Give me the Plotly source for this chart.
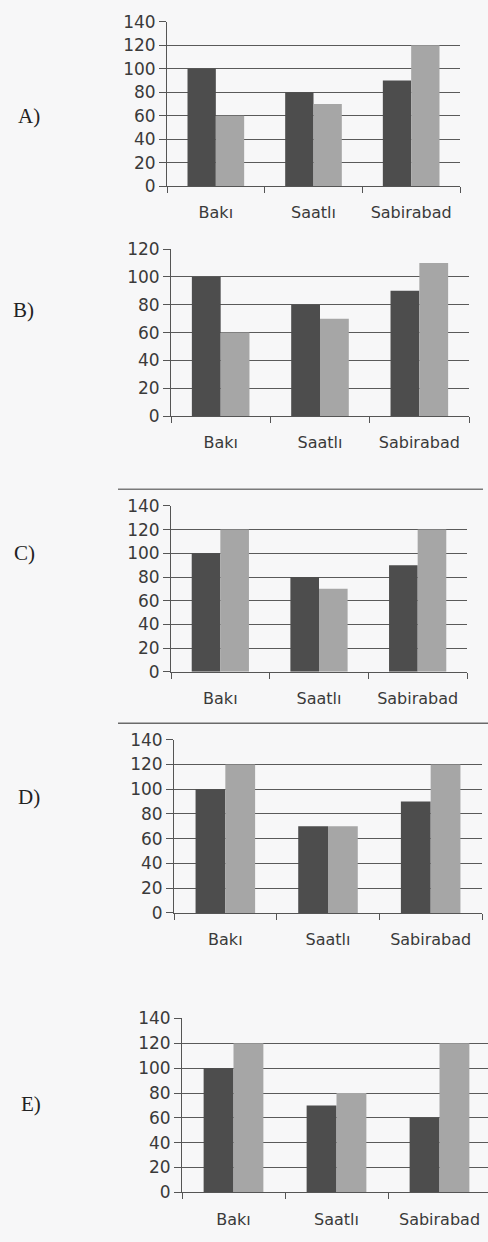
import plotly.graph_objects as go

# Five alternative answer charts (A–E): two series per city
cities = ["Bakı", "Saatlı", "Sabirabad"]
options = ["A)", "B)", "C)", "D)", "E)"]

dark_A = [100, 80, 90]
light_A = [60, 70, 120]
dark_B = [100, 80, 90]
light_B = [60, 70, 110]
dark_C = [100, 80, 90]
light_C = [120, 70, 120]
dark_D = [100, 70, 90]
light_D = [120, 70, 120]
dark_E = [100, 70, 60]
light_E = [120, 80, 120]

y_max = [140, 120, 140, 140, 140]

dark_series = [dark_A, dark_B, dark_C, dark_D, dark_E]
light_series = [light_A, light_B, light_C, light_D, light_E]

W, H = 488, 1242
DARK = "#4d4d4d"
LIGHT = "#a6a6a6"
AXIS = "#555555"

# panel frames in pixels: (left, right, top of range, baseline)
frames = [
    (167, 460, 12, 179),
    (171, 469, 243, 412.7),
    (171, 467, 504, 672.7),
    (174, 482, 741.7, 917.7),
    (182, 491, 1025, 1201.7),
]
# option letter positions in pixels
letter_pos = [(29, 108), (23, 305), (24, 552), (29, 800), (31, 1112)]

fig = go.Figure()
layout = dict(
    width=W, height=H,
    margin=dict(l=0, r=0, t=0, b=0),
    paper_bgcolor="#f7f7f8",
    plot_bgcolor="rgba(0,0,0,0)",
    showlegend=False,
    barmode="group",
    bargap=0.42,
    bargroupgap=0,
)

annotations = []
for i in range(5):
    n = i + 1
    xa = "x" if n == 1 else f"x{n}"
    ya = "y" if n == 1 else f"y{n}"
    left, right, top, base = frames[i]
    clipped_right = min(right, W)
    cat_w = (right - left) / 3.0
    x_hi = -0.5 + (clipped_right - left) / cat_w

    fig.add_trace(go.Bar(x=cities, y=dark_series[i], marker=dict(color=DARK, line=dict(width=0)),
                         xaxis=xa, yaxis=ya, offsetgroup="d"))
    fig.add_trace(go.Bar(x=cities, y=light_series[i], marker=dict(color=LIGHT, line=dict(width=0)),
                         xaxis=xa, yaxis=ya, offsetgroup="l"))

    layout["xaxis" if n == 1 else f"xaxis{n}"] = dict(
        domain=[left / W, clipped_right / W],
        anchor=ya,
        type="category",
        range=[-0.5, x_hi],
        showline=True, linecolor=AXIS, linewidth=1,
        ticks="outside", tickson="boundaries", ticklen=6, tickcolor=AXIS, tickwidth=1,
        showgrid=False, zeroline=False,
        tickfont=dict(family="DejaVu Sans", size=16, color="#3a3a3a"),
        ticklabelstandoff=12,
        fixedrange=True,
    )
    layout["yaxis" if n == 1 else f"yaxis{n}"] = dict(
        domain=[(H - base) / H, (H - top) / H],
        anchor=xa,
        range=[0, y_max[i]],
        dtick=20,
        showline=True, linecolor=AXIS, linewidth=1,
        ticks="outside", ticklen=7, tickcolor=AXIS, tickwidth=1,
        showgrid=True, gridcolor="#5a5a5a", gridwidth=1.2,
        zeroline=False,
        tickfont=dict(family="DejaVu Sans", size=17, color="#3a3a3a"),
        fixedrange=True,
    )

    lx, ly = letter_pos[i]
    annotations.append(dict(
        text=options[i], x=lx / W, y=(H - ly) / H, xref="paper", yref="paper",
        showarrow=False, xanchor="center", yanchor="middle",
        font=dict(family="Liberation Serif", size=21, color="#222222"),
    ))

layout["annotations"] = annotations

# printed rules separating the panels
layout["shapes"] = [
    dict(type="line", xref="paper", yref="paper", x0=118 / W, x1=483 / W,
         y0=(H - 487) / H, y1=(H - 487) / H, line=dict(color="#7a7a7a", width=1.5)),
    dict(type="line", xref="paper", yref="paper", x0=118 / W, x1=1,
         y0=(H - 725) / H, y1=(H - 725) / H, line=dict(color="#6a6a6a", width=1.5)),
]

fig.update_layout(**layout)
fig.write_html("out.html")
